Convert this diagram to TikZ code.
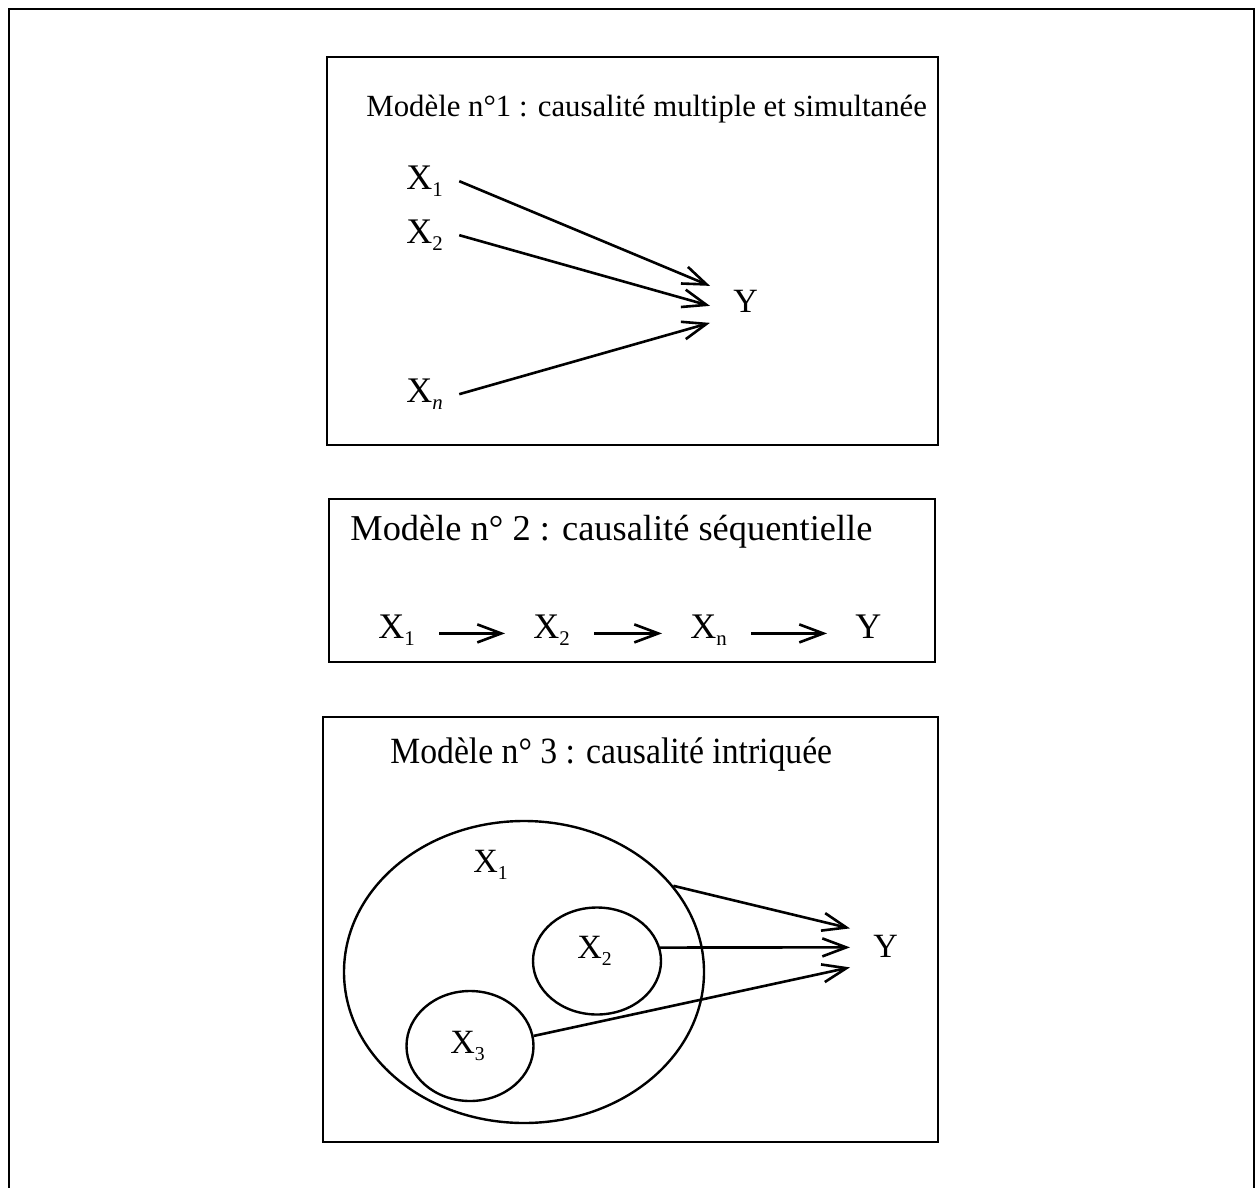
\documentclass[tikz,border=0pt]{standalone}
\usepackage{fontspec}
\setmainfont{Liberation Serif}
\usepackage{graphicx}
\usetikzlibrary{arrows.meta,shapes.geometric}

\newcommand{\indice}[1]{\raisebox{-0.22em}{\scalebox{0.58}{#1}}}

\begin{document}
\begin{tikzpicture}[
  x=0.5pt, y=-0.5pt,
  cadre/.style={line width=1pt},
  panel/.style={rectangle, draw, line width=0.9pt, inner sep=0pt, outer sep=0pt},
  titre/.style={inner sep=0pt, anchor=base west, font=\fontsize{#1}{#1}\selectfont},
  var/.style={inner sep=0pt, anchor=base west, font=\fontsize{#1}{#1}\selectfont},
  var/.default={16.5},
  ens/.style={ellipse, draw, line width=1.2pt, inner sep=0pt},
  arr/.style={-{Straight Barb[length=12pt,width=9pt]}, line width=1.3pt}
]
  \useasboundingbox (0,0) rectangle (1258,1188);

  % Cadre
  \draw[cadre] (9,1188) -- (9,9) -- (1254,9) -- (1254,1188);

  % Modele 1
  \node[panel, minimum width=305.5pt, minimum height=194pt] (m1) at (632.5,251) {};
  \node[titre=15.4] (t1) at (366,117) {Modèle n°1 : causalité multiple et simultanée};
  \node[var=18] (m1x1) at (406,189) {X\indice{1}};
  \node[var=18] (m1x2) at (406,243) {X\indice{2}};
  \node[var=18] (m1xn) at (406,402) {X\indice{\textit{n}}};
  \node[var=17] (m1y) at (733,312) {Y};
  \draw[arr] ([xshift=8pt]m1x1.east) -- ([xshift=-11.5pt,yshift=7.5pt]m1y.west);
  \draw[arr] ([xshift=8pt]m1x2.east) -- ([xshift=-11.5pt,yshift=-2.5pt]m1y.west);
  \draw[arr] ([xshift=8pt]m1xn.east) -- ([xshift=-11.5pt,yshift=-11pt]m1y.west);

  % Modele 2
  \node[panel, minimum width=303pt, minimum height=81.5pt] (m2) at (632,580.5) {};
  \node[titre=18.2] (t2) at (350,540) {Modèle n° 2 : causalité séquentielle};
  \node[var=18] (m2x1) at (378,638) {X\indice{1}};
  \node[var=18] (m2x2) at (533,638) {X\indice{2}};
  \node[var=18] (m2xn) at (690,638) {X\indice{n}};
  \node[var=18] (m2y) at (855,638) {Y};
  \draw[arr, shorten <=12pt, shorten >=14pt] (m2x1.mid east) -- (m2x2.mid west);
  \draw[arr, shorten <=12pt, shorten >=14pt] (m2x2.mid east) -- (m2xn.mid west);
  \draw[arr, shorten <=12pt, shorten >=14pt] (m2xn.mid east) -- (m2y.mid west);

  % Modele 3
  \node[panel, minimum width=307.5pt, minimum height=212.5pt] (m3) at (630.5,929.5) {};
  \node[titre=18.5] (t3) at (390,763) {\scalebox{0.91}[1]{Modèle n° 3 : causalité intriquée}};
  \node[ens, minimum width=180pt, minimum height=151pt] (e1) at (524,972) {};
  \node[ens, minimum width=64pt, minimum height=53.5pt] (e2) at (597,961) {};
  \node[ens, minimum width=63.5pt, minimum height=55pt] (e3) at (470,1046) {};
  \node[var=17] (m3x1) at (473,872) {X\indice{1}};
  \node[var=17] (m3x2) at (577,958) {X\indice{2}};
  \node[var=17] (m3x3) at (450,1053) {X\indice{3}};
  \node[var=17] (m3y) at (873,957) {Y};
  \draw[arr] (e1.30) -- ([xshift=-11.5pt,yshift=8.75pt]m3y.west);
  \draw[arr] (e2.12) -- ([xshift=-11.5pt,yshift=-0.75pt]m3y.west);
  \draw[arr] (e3.9) -- ([xshift=-11.5pt,yshift=-10.75pt]m3y.west);
\end{tikzpicture}
\end{document}
